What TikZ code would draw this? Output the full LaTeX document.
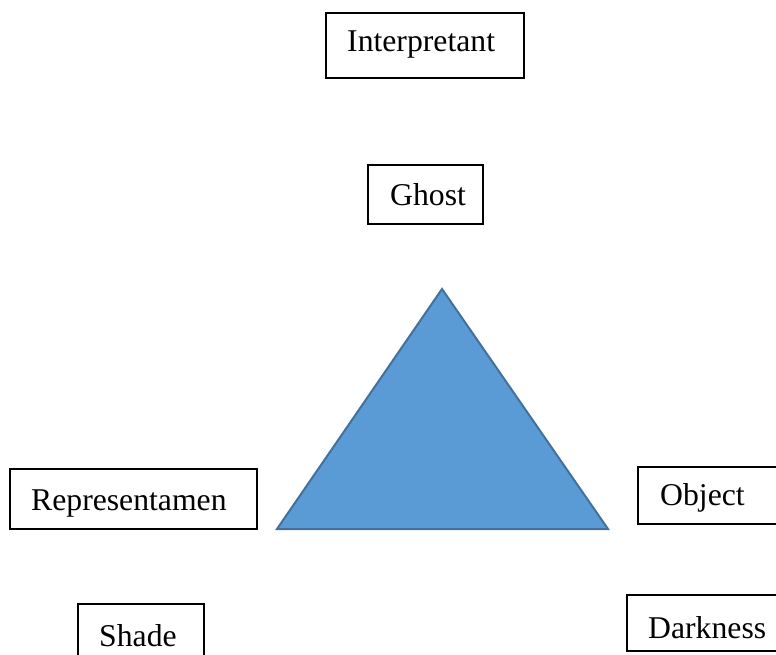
\documentclass[tikz,border=0pt]{standalone}
\usepackage{fontspec}
\setmainfont{Liberation Serif}
\definecolor{trifill}{HTML}{5B9BD5}
\definecolor{triedge}{HTML}{41719C}
\begin{document}
\begin{tikzpicture}[x=1pt,y=-1pt,
  box/.style={draw=black, line width=1.3pt, fill=white, inner sep=0pt},
  lbl/.style={anchor=base west, inner sep=0pt, font=\fontsize{31.7}{38}\selectfont}]
\useasboundingbox (0,0) rectangle (776,655);

% frames
\node[box, minimum width=198pt, minimum height=65pt] (interp) at (425,45.5) {};
\node[box, minimum width=115pt, minimum height=59pt] (ghost) at (425.5,194.5) {};
\node[box, minimum width=247pt, minimum height=60pt] (repr) at (133.5,499) {};
\node[box, minimum width=139pt, minimum height=57pt] (object) at (707.5,495.5) {};
\node[box, minimum width=126pt, minimum height=60pt] (shade) at (141,634) {};
\node[box, minimum width=150pt, minimum height=56pt] (dark) at (702,623) {};

% labels
\node[lbl] (interp-t) at (347,52) {Interpretant};
\node[lbl] (ghost-t) at (390,205) {Ghost};
\node[lbl] (repr-t) at (31,510) {Representamen};
\node[lbl] (object-t) at (660,505) {Object};
\node[lbl] (shade-t) at (99,646) {Shade};
\node[lbl] (dark-t) at (648,638) {Darkness};

% triangle
\coordinate (apex) at (442,289);
\coordinate (bl) at (277,529);
\coordinate (br) at (608,529);
\filldraw[fill=trifill, draw=triedge, line width=2pt, line join=miter] (apex) -- (br) -- (bl) -- cycle;
\end{tikzpicture}
\end{document}
